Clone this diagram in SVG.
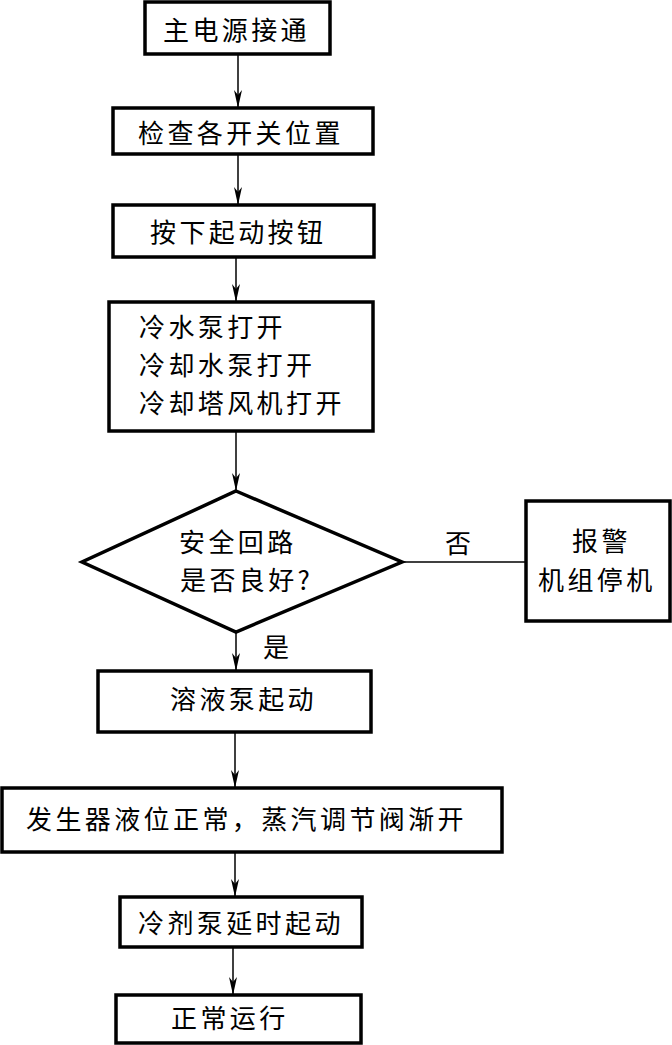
<svg xmlns="http://www.w3.org/2000/svg" width="672" height="1045" viewBox="0 0 672 1045">
<style>
.box{fill:#fff;stroke:#000;stroke-width:3.5}
.t{font-family:"Noto Sans CJK SC","Noto Sans CJK JP",sans-serif;font-size:26px;fill:#000;letter-spacing:3.4px}
.ln{stroke:#000;stroke-width:1.5;fill:none}
</style>
<defs>
<marker id="ah" viewBox="0 0 18 8" refX="18" refY="4" markerWidth="18" markerHeight="8" markerUnits="userSpaceOnUse" orient="auto">
<path d="M0,0 L18,4 L0,8 L5,4 z" fill="#000"/>
</marker>
</defs>
<rect width="672" height="1045" fill="#fff"/>
<g id="connectors">
<line class="ln" x1="238" y1="54" x2="238" y2="108" marker-end="url(#ah)"/>
<line class="ln" x1="238" y1="154" x2="238" y2="205" marker-end="url(#ah)"/>
<line class="ln" x1="236" y1="257" x2="236" y2="302" marker-end="url(#ah)"/>
<line class="ln" x1="236" y1="431" x2="236" y2="491" marker-end="url(#ah)"/>
<line class="ln" x1="236" y1="632" x2="236" y2="671" marker-end="url(#ah)"/>
<line class="ln" x1="235" y1="732" x2="235" y2="788" marker-end="url(#ah)"/>
<line class="ln" x1="235" y1="852" x2="235" y2="897" marker-end="url(#ah)"/>
<line class="ln" x1="233" y1="947" x2="233" y2="995" marker-end="url(#ah)"/>
<line class="ln" x1="402" y1="562" x2="526" y2="562"/>
<text class="t" x="445" y="553">否</text>
<text class="t" x="263" y="657">是</text>
</g>
<g id="n1">
<rect class="box" x="145" y="2" width="185" height="52"/>
<text class="t" x="163" y="40">主电源接通</text>
</g>
<g id="n2">
<rect class="box" x="113" y="108" width="260" height="46"/>
<text class="t" x="138" y="143">检查各开关位置</text>
</g>
<g id="n3">
<rect class="box" x="113" y="205" width="261" height="52"/>
<text class="t" x="150" y="242">按下起动按钮</text>
</g>
<g id="n4">
<rect class="box" x="109" y="302" width="264" height="129"/>
<text class="t" x="139" y="337">冷水泵打开</text>
<text class="t" x="139" y="375">冷却水泵打开</text>
<text class="t" x="139" y="413">冷却塔风机打开</text>
</g>
<g id="n5">
<polygon class="box" points="236,491 402,562 236,632 82,562"/>
<text class="t" x="179" y="552">安全回路</text>
<text class="t" x="180" y="590">是否良好?</text>
</g>
<g id="n6">
<rect class="box" x="526" y="501" width="144" height="120"/>
<text class="t" x="572" y="551">报警</text>
<text class="t" x="538" y="590">机组停机</text>
</g>
<g id="n7">
<rect class="box" x="98" y="671" width="273" height="61"/>
<text class="t" x="170" y="709">溶液泵起动</text>
</g>
<g id="n8">
<rect class="box" x="2" y="788" width="500" height="64"/>
<text class="t" x="26" y="829">发生器液位正常，蒸汽调节阀渐开</text>
</g>
<g id="n9">
<rect class="box" x="120" y="897" width="242" height="50"/>
<text class="t" x="138" y="933">冷剂泵延时起动</text>
</g>
<g id="n10">
<rect class="box" x="116" y="995" width="245" height="48"/>
<text class="t" x="171" y="1028">正常运行</text>
</g>
</svg>
